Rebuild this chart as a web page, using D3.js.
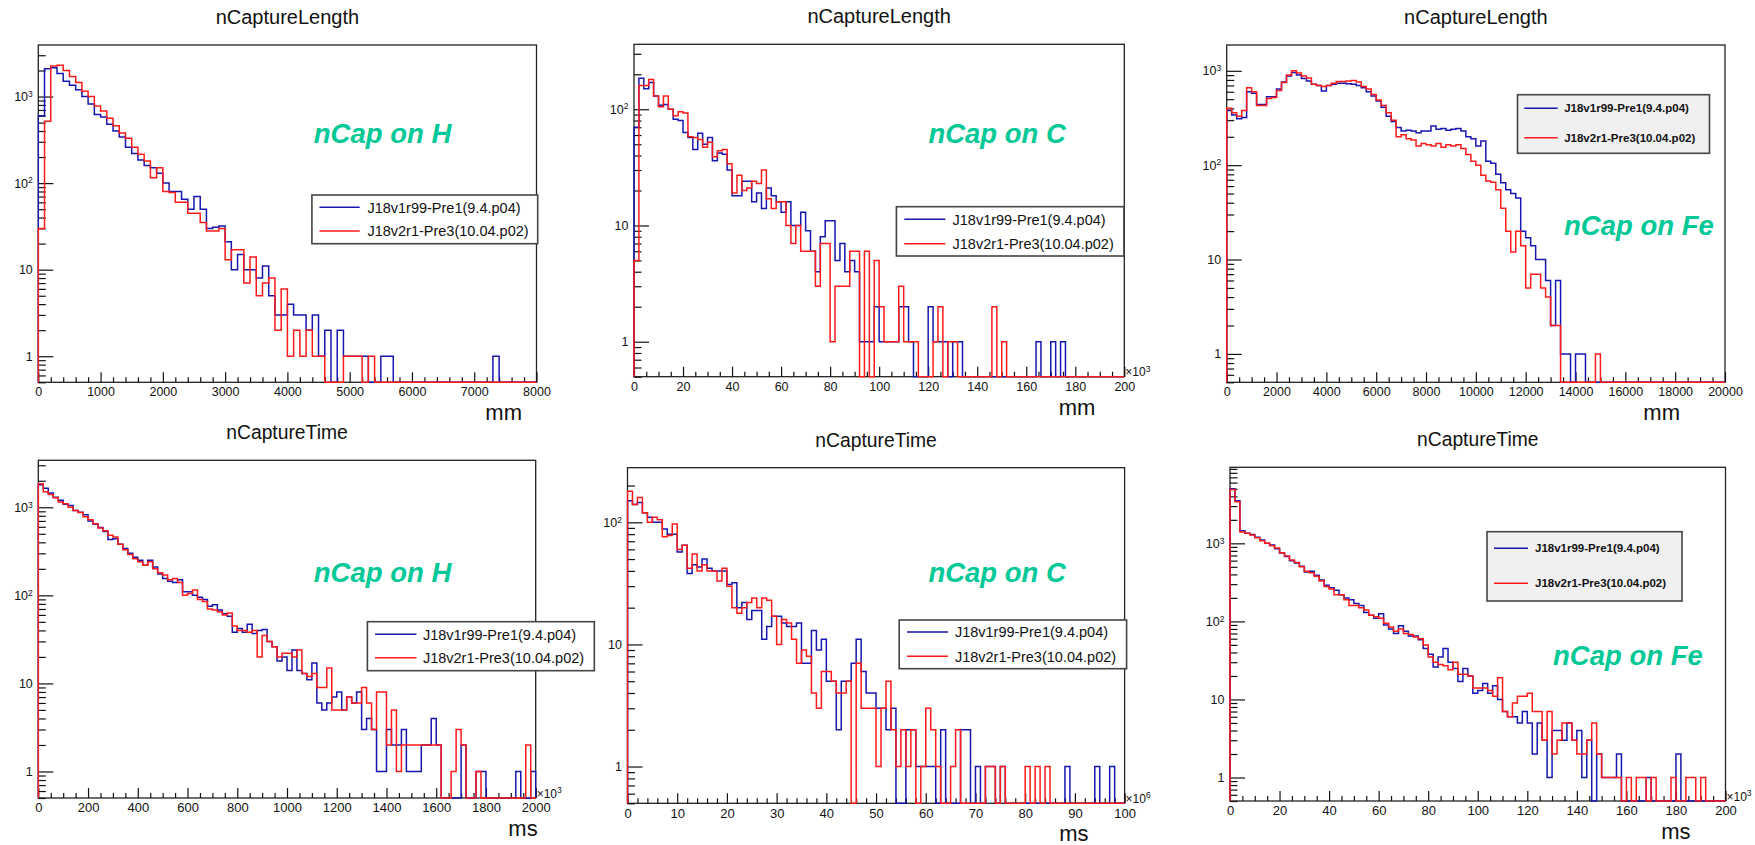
<!DOCTYPE html>
<html>
<head>
<meta charset="utf-8">
<script src="https://cdn.jsdelivr.net/npm/d3@7"></script>
<style>
  body { margin: 0; background: #fff; }
  svg { display: block; font-family: "Liberation Sans", Arial, Helvetica, sans-serif; }
</style>
</head>
<body>
<svg id="chart" width="1755" height="845"></svg>
<script>
// ---- text content ----
const seriesNames = ["J18v1r99-Pre1(9.4.p04)", "J18v2r1-Pre3(10.04.p02)"];
const titles = ["nCaptureLength", "nCaptureLength", "nCaptureLength", "nCaptureTime", "nCaptureTime", "nCaptureTime"];
const tags = ["nCap on H", "nCap on C", "nCap on Fe", "nCap on H", "nCap on C", "nCap on Fe"];
const units = ["mm", "mm", "mm", "ms", "ms", "ms"];
const axisExponents = [null, "3", null, "3", "6", "3"];   // "×10^n" note on x axes
const xRanges = [8000, 200, 20000, 2000, 100, 200];        // x axis upper limits
const binWidths = [100, 2, 200, 20, 1, 2];

// ---- histogram contents (entries per bin) ----
// capture length, H
const lenH_v1 = [600,2100,2150,1850,1500,1350,1200,1000,820,620,
  580,480,400,340,260,220,185,160,150,130,
  100,80,80,65,50,70,50,30,31,32,
  21,10,15,10,10,8,11,5,3,3,
  4,3,3,2,3,1,2,0,2,1,
  1,1,1,0,0,1,1,0,0,0,
  0,0,0,0,0,0,0,0,0,0,
  0,0,0,1,0,0,0,0,0,0];
const lenH_v2 = [30,520,2250,2300,2000,1700,1450,1150,1000,780,
  680,560,460,380,330,260,215,180,115,150,
  80,78,60,60,45,45,35,28,28,30,
  13,17,17,7,14,5,7,8,2,6,
  1,2,1,2,1,1,0,0,0,1,
  1,1,0,1,0,0,0,0,0,0,
  0,0,0,0,0,0,0,0,0,0,
  0,0,0,0,0,0,0,0,0,0];
// capture length, C
const lenC_v1 = [70,185,150,170,130,108,110,100,82,80,
  63,57,45,62,50,57,36,42,41,30,
  18,18,24,24,16,19,14,21,18,16,
  13,16,10,10,13,9,6,4,8,11,
  11,5,7,4,5,4,1,1,1,2,
  1,1,1,1,2,2,1,0,0,0,
  2,1,1,1,0,1,1,0,0,0,
  0,0,0,0,0,0,0,0,0,0,
  0,0,1,0,0,1,0,1,0,0,
  0,0,0,0,0,0,0,0,0,0];
const lenC_v2 = [5,160,160,180,130,105,130,100,88,95,
  93,58,57,55,47,52,39,44,45,34,
  19,27,20,21,24,23,30,17,14,16,
  16,10,7,10,6,6,6,3,7,7,
  1,3,3,3,6,6,0,6,0,5,
  2,1,1,1,3,1,1,1,0,0,
  0,1,2,0,1,1,0,0,0,0,
  0,0,0,2,0,1,0,0,0,0,
  0,0,0,0,0,0,0,0,0,0,
  0,0,0,0,0,0,0,0,0,0];
// capture length, Fe
const lenFe_v1 = [380,340,310,320,600,580,440,440,530,530,
  640,760,880,960,900,830,780,720,700,610,
  700,720,740,740,730,720,700,660,600,540,
  480,410,330,290,250,230,235,230,220,230,
  230,260,240,245,235,240,245,230,200,190,
  160,180,110,105,80,65,55,50,45,20,
  17,14,10,10,6,2,6,1,1,0,
  1,1,0,0,0,0,0,0,0,0,
  0,0,0,0,0,0,0,0,0,0,
  0,0,0,0,0,0,0,0,0,0];
const lenFe_v2 = [400,360,330,380,660,600,430,430,510,520,
  620,750,900,1000,950,880,840,720,700,680,
  700,740,770,770,780,790,760,680,640,560,
  490,430,360,300,200,210,190,185,160,170,
  165,160,170,155,165,160,165,150,130,110,
  100,78,68,66,55,35,20,12,20,14,
  5,7,7,5,4,2,2,0,0,0,
  0,0,0,0,1,0,0,0,0,0,
  0,0,0,0,0,0,0,0,0,0,
  0,0,0,0,0,0,0,0,0,0];
// capture time, H
const timeH_v1 = [1800,1640,1450,1300,1200,1080,1050,920,880,820,
  700,640,590,530,430,440,380,340,300,270,
  250,220,250,210,175,155,145,140,150,110,
  110,100,95,90,75,78,68,62,58,38,
  42,38,47,37,40,41,30,26,18,20,
  14,24,14,13,11,17,6,5,6,7,
  8,5,7,6,8,3,4,3,1,1,
  3,2,2,3,1,1,1,2,2,4,
  2,0,0,0,0,2,0,0,1,1,
  0,0,0,0,0,0,1,0,0,1];
const timeH_v2 = [1850,1500,1400,1280,1150,1100,1000,920,870,780,
  720,650,580,540,480,460,380,330,290,260,
  240,220,240,200,180,170,150,155,140,100,
  105,115,90,85,70,68,65,60,63,45,
  40,40,38,40,20,35,30,26,20,22,
  22,20,24,13,12,13,9,9,15,5,
  5,5,7,6,6,9,6,3,8,8,
  2,5,1,2,2,2,2,2,2,2,
  2,0,0,1,3,2,0,0,1,0,
  0,0,0,0,0,0,0,0,2,0];
// capture time, C
const timeC_v1 = [150,140,145,120,110,100,100,88,80,80,
  57,65,38,45,43,50,42,40,40,40,
  31,32,20,22,16,19,19,11,14,17,
  17,15,14,14,15,7,7,13,9,11,
  5,5,2,5,5,7,11,6,4,4,
  3,3,2,3,0,0,2,2,1,1,
  1,1,0,2,0,0,0,2,2,0,
  1,0,1,1,0,1,0,0,0,0,
  0,0,0,0,0,0,0,0,1,0,
  0,0,0,0,1,0,0,1,0,0];
const timeC_v2 = [180,140,160,120,100,110,105,76,78,97,
  60,65,42,55,40,45,40,40,33,42,
  30,20,18,20,22,24,20,24,23,17,
  10,16,15,11,7,9,8,4,3,6,
  6,5,4,4,5,0,7,3,3,3,
  1,3,5,2,1,2,1,2,0,1,
  3,2,1,0,0,1,2,0,0,0,
  0,0,1,1,0,1,0,0,0,0,
  1,0,1,0,1,0,0,0,0,0,
  0,0,0,0,0,0,0,0,0,0];
// capture time, Fe
const timeFe_v1 = [5000,3500,1450,1350,1300,1200,1100,1000,950,850,
  750,680,600,560,510,430,440,390,340,290,
  270,250,220,200,190,170,160,130,120,110,
  125,90,80,70,88,75,65,65,58,45,
  38,26,35,45,30,25,17,25,20,12,
  13,16,12,15,10,7,6,6,5,7,
  5,2,5,3,1,4,4,3,5,3,
  4,1,3,0,2,1,1,1,2,0,
  0,0,0,0,1,0,0,0,0,0,
  2,0,0,0,0,0,0,0,0,0];
const timeFe_v2 = [4900,3400,1400,1350,1280,1180,1080,1000,930,870,
  760,690,610,570,500,440,420,380,330,280,
  260,220,220,190,160,160,150,140,120,115,
  110,95,85,75,80,70,68,63,60,50,
  35,30,28,27,24,30,21,21,20,14,
  14,14,13,11,19,7,6,9,11,11,
  12,7,7,3,7,2,3,5,5,3,
  2,2,3,5,2,1,1,1,1,0,
  1,0,1,1,0,1,0,0,0,1,
  0,0,1,1,0,1,0,0,0,0];

const seriesV1 = [lenH_v1, lenC_v1, lenFe_v1, timeH_v1, timeC_v1, timeFe_v1];
const seriesV2 = [lenH_v2, lenC_v2, lenFe_v2, timeH_v2, timeC_v2, timeFe_v2];

// ---- pad geometry ----
const pads = [
  { L: 38.3, T: 45, R: 536.5, B: 382.3, yMax: 3940, major: 1000, minor: 200, unitDx: 14.5, titleSize: 20,
    leg: { x0: 311.9, y0: 195, x1: 537.7, y1: 243.7, ly: [207.3, 231], lx0: 319.5, lx1: 359.7, tx: 367.4, size: 14.5, bold: false, fill: "#ffffff" },
    tag: { x: 313.8, y: 143.3 } },
  { L: 634, T: 44.3, R: 1124.3, B: 376.7, yMax: 362, major: 20, minor: 5, unitDx: 29, titleSize: 20,
    leg: { x0: 896.4, y0: 206.7, x1: 1123.9, y1: 256, ly: [219.3, 243.7], lx0: 904.3, lx1: 945.3, tx: 952.5, size: 14.5, bold: false, fill: "#ffffff" },
    tag: { x: 928.4, y: 143.3 } },
  { L: 1226.7, T: 45, R: 1725, B: 382.3, yMax: 1877, major: 2000, minor: 500, unitDx: 45, titleSize: 20,
    leg: { x0: 1517.5, y0: 94.7, x1: 1709.5, y1: 153.3, ly: [108.3, 137.7], lx0: 1524.3, lx1: 1557.7, tx: 1564.2, size: 11.5, bold: true, fill: "#f0f0f0" },
    tag: { x: 1564, y: 235 } },
  { L: 38.3, T: 460.3, R: 535.7, B: 798, yMax: 3415, major: 200, minor: 50, unitDx: -2, titleSize: 19.3,
    leg: { x0: 367.4, y0: 621.7, x1: 594.3, y1: 670.7, ly: [634.3, 657.7], lx0: 375, lx1: 416.4, tx: 422.9, size: 14.5, bold: false, fill: "#ffffff" },
    tag: { x: 313.8, y: 582.3 } },
  { L: 627.5, T: 467.7, R: 1124.6, B: 803.3, yMax: 280, major: 10, minor: 2, unitDx: 36, titleSize: 19.3,
    leg: { x0: 899.2, y0: 620, x1: 1126.6, y1: 668.7, ly: [632, 656.3], lx0: 907, lx1: 948, tx: 954.9, size: 14.5, bold: false, fill: "#ffffff" },
    tag: { x: 928.4, y: 582.3 } },
  { L: 1230, T: 467.3, R: 1725.5, B: 801, yMax: 9420, major: 20, minor: 5, unitDx: 35, titleSize: 19.3,
    leg: { x0: 1487, y0: 531.7, x1: 1682, y1: 601, ly: [548.3, 583.3], lx0: 1494, lx1: 1528, tx: 1535, size: 11.5, bold: true, fill: "#f0f0f0" },
    tag: { x: 1553, y: 665 } }
];

const Y_MIN = 0.5;
const COLORS = ["#1616b0", "#ff1a1a"];
const TAG_COLOR = "#00c896";
const svg = d3.select("#chart");
svg.append("rect").attr("width", 1755).attr("height", 845).attr("fill", "#fff");

const supDigits = { "2": "2", "3": "3" };

pads.forEach((p, i) => {
  const nBins = seriesV1[i].length;
  const x = d3.scaleLinear().domain([0, xRanges[i]]).range([p.L, p.R]);
  const y = d3.scaleLog().domain([Y_MIN, p.yMax]).range([p.B, p.T]);
  const g = svg.append("g");

  // frame
  g.append("rect")
    .attr("x", p.L).attr("y", p.T).attr("width", p.R - p.L).attr("height", p.B - p.T)
    .attr("fill", "#fff").attr("stroke", "#222").attr("stroke-width", 1.3);

  // x axis: major ticks with labels, minor ticks without
  const xMajors = d3.range(0, xRanges[i] + 1e-9, p.major);
  const xMinors = d3.range(0, xRanges[i] + 1e-9, p.minor).filter(v => Math.abs(v / p.major - Math.round(v / p.major)) > 1e-6);
  const xAxisMajor = g.append("g").attr("transform", `translate(0,${p.B})`)
    .call(d3.axisBottom(x).tickValues(xMajors).tickSize(-10).tickPadding(5).tickFormat(d3.format("d")));
  const xAxisMinor = g.append("g").attr("transform", `translate(0,${p.B})`)
    .call(d3.axisBottom(x).tickValues(xMinors).tickSize(-5).tickFormat(""));
  [xAxisMajor, xAxisMinor].forEach(a => {
    a.select(".domain").remove();
    a.selectAll(".tick line").attr("stroke", "#111").attr("stroke-width", 1.2);
  });
  xAxisMajor.selectAll(".tick text")
    .attr("font-family", '"Liberation Sans", Arial, sans-serif')
    .attr("font-size", i >= 3 ? 13 : 12.5).attr("fill", "#111");

  // y axis (log): decades labelled, 2..9 sub-ticks
  const decades = [1, 10, 100, 1000, 10000].filter(v => v >= Y_MIN && v <= p.yMax);
  const yMinors = [];
  [-1, 0, 1, 2, 3].forEach(e => {
    for (let m = 2; m <= 9; m++) {
      const v = m * Math.pow(10, e);
      if (v >= Y_MIN - 1e-9 && v <= p.yMax) yMinors.push(v);
    }
  });
  const yAxisMajor = g.append("g").attr("transform", `translate(${p.L},0)`)
    .call(d3.axisLeft(y).tickValues(decades).tickSize(-15).tickPadding(5.5).tickFormat(""));
  const yAxisMinor = g.append("g").attr("transform", `translate(${p.L},0)`)
    .call(d3.axisLeft(y).tickValues(yMinors).tickSize(-7.5).tickFormat(""));
  [yAxisMajor, yAxisMinor].forEach(a => {
    a.select(".domain").remove();
    a.selectAll(".tick line").attr("stroke", "#111").attr("stroke-width", 1.2);
  });
  yAxisMajor.selectAll(".tick text").each(function (d) {
    const t = d3.select(this)
      .attr("font-family", '"Liberation Sans", Arial, sans-serif')
      .attr("font-size", 12.5).attr("fill", "#111");
    const e = Math.round(Math.log10(d));
    if (e <= 1) {
      t.text(String(d));
    } else {
      t.append("tspan").text("10");
      t.append("tspan").attr("font-size", 8.5).attr("dy", "-0.5em").text(String(e));
    }
  });

  // histograms
  const clipId = "pad-clip-" + i;
  svg.append("clipPath").attr("id", clipId)
    .append("rect").attr("x", p.L - 1).attr("y", p.T).attr("width", p.R - p.L + 2).attr("height", p.B - p.T + 1);
  const line = d3.line()
    .x(d => x(d[0]))
    .y(d => y(Math.max(d[1], Y_MIN)))
    .curve(d3.curveStepAfter);
  const outline = vals => {
    const pts = [[0, Y_MIN]];
    vals.forEach((v, k) => pts.push([k * binWidths[i], v]));
    pts.push([vals.length * binWidths[i], Y_MIN]);
    return pts;
  };
  [seriesV1[i], seriesV2[i]].forEach((vals, s) => {
    g.append("path")
      .attr("clip-path", `url(#${clipId})`)
      .attr("d", line(outline(vals)))
      .attr("fill", "none")
      .attr("stroke", COLORS[s])
      .attr("stroke-width", 1.5)
      .attr("stroke-linejoin", "miter");
  });

  // title
  g.append("text")
    .attr("x", (p.L + p.R) / 2).attr("y", p.T - 21)
    .attr("text-anchor", "middle").attr("font-size", p.titleSize).attr("fill", "#111")
    .text(titles[i]);

  // axis unit
  g.append("text")
    .attr("x", p.R - p.unitDx).attr("y", p.B + 38)
    .attr("text-anchor", "end").attr("font-size", 22).attr("fill", "#111")
    .text(units[i]);

  // ×10^n note
  if (axisExponents[i]) {
    const t = g.append("text")
      .attr("x", p.R + 1).attr("y", p.B - 0.5)
      .attr("font-size", 12).attr("fill", "#111");
    t.append("tspan").text("\u00d710");
    t.append("tspan").attr("font-size", 8.5).attr("dy", "-0.55em").text(axisExponents[i]);
  }

  // legend
  const lg = p.leg;
  g.append("rect")
    .attr("x", lg.x0).attr("y", lg.y0).attr("width", lg.x1 - lg.x0).attr("height", lg.y1 - lg.y0)
    .attr("fill", lg.fill).attr("stroke", "#444").attr("stroke-width", 1.6);
  seriesNames.forEach((name, s) => {
    g.append("line")
      .attr("x1", lg.lx0).attr("x2", lg.lx1).attr("y1", lg.ly[s]).attr("y2", lg.ly[s])
      .attr("stroke", COLORS[s]).attr("stroke-width", 1.5);
    g.append("text")
      .attr("x", lg.tx).attr("y", lg.ly[s] + lg.size * 0.36)
      .attr("font-size", lg.size).attr("font-weight", lg.bold ? "bold" : "normal")
      .attr("fill", "#111")
      .text(name);
  });

  // target label
  g.append("text")
    .attr("x", p.tag.x).attr("y", p.tag.y)
    .attr("font-size", 27.5).attr("font-weight", "bold").attr("font-style", "italic")
    .attr("fill", TAG_COLOR)
    .text(tags[i]);
});
</script>
</body>
</html>
